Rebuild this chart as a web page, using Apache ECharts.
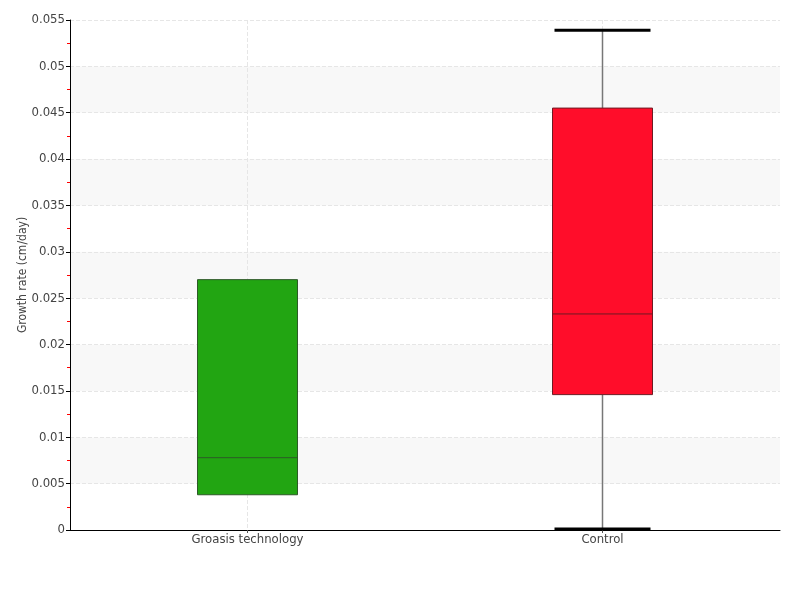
<!DOCTYPE html>
<html>
<head>
<meta charset="utf-8">
<script src="https://cdn.jsdelivr.net/npm/echarts@6/dist/echarts.min.js"></script>
<style>
  html, body { margin: 0; padding: 0; background: #fff; }
  #main { width: 800px; height: 600px; }
</style>
</head>
<body>
<div id="main"></div>
<script>
// 数据
var categories = ['Groasis technology', 'Control'];
var lowValues = [0.0038, 0.0001];
var q1Values = [0.0038, 0.0146];
var medianValues = [0.0078, 0.0233];
var q3Values = [0.027, 0.0455];
var highValues = [0.027, 0.0539];
var boxColors = ['#22a512', '#ff0d2a'];
var boxBorders = ['#2d5a27', '#6e1a22'];

var font = '"Liberation Sans Narrow", "DejaVu Sans Condensed", sans-serif';

var seriesData = categories.map(function (c, i) {
  return [i, lowValues[i], q1Values[i], medianValues[i], q3Values[i], highValues[i]];
});

var chart = echarts.init(document.getElementById('main'));

chart.setOption({
  animation: false,
  grid: { left: 70, right: 20, top: 20, bottom: 70 },
  xAxis: {
    type: 'category',
    data: categories,
    boundaryGap: true,
    axisLine: { lineStyle: { color: '#000', width: 1 } },
    axisTick: { show: true, alignWithLabel: true, length: 3, lineStyle: { color: '#555' } },
    axisLabel: { color: '#444', fontSize: 13, fontFamily: font, margin: 3 },
    splitLine: { show: true, alignWithLabel: true, lineStyle: { color: '#e6e6e6', type: 'dashed' } }
  },
  yAxis: {
    type: 'value',
    min: 0,
    max: 0.055,
    interval: 0.005,
    name: 'Growth rate (cm/day)',
    nameLocation: 'middle',
    nameGap: 41,
    nameMoveOverlap: false,
    nameTextStyle: { color: '#444', fontSize: 12, fontFamily: font },
    axisLine: { show: true, lineStyle: { color: '#000', width: 1 } },
    axisTick: { show: true, length: 4, lineStyle: { color: '#000' } },
    minorTick: { show: true, splitNumber: 2, length: 3, lineStyle: { color: '#ff0000' } },
    axisLabel: { color: '#444', fontSize: 13, fontFamily: font, margin: 5 },
    splitLine: { show: true, lineStyle: { color: '#e6e6e6', type: 'dashed' } },
    splitArea: { show: true, areaStyle: { color: ['#ffffff', '#f8f8f8'] } }
  },
  series: [{
    type: 'custom',
    data: seriesData,
    encode: { x: 0, y: [1, 2, 3, 4, 5] },
    renderItem: function (params, api) {
      var idx = api.value(0);
      var low = api.coord([idx, api.value(1)]);
      var q1 = api.coord([idx, api.value(2)]);
      var med = api.coord([idx, api.value(3)]);
      var q3 = api.coord([idx, api.value(4)]);
      var high = api.coord([idx, api.value(5)]);
      var cx = low[0];
      var halfBox = 50;
      var halfCap = 48;
      var children = [];
      if (api.value(5) > api.value(4)) {
        children.push({ type: 'line', shape: { x1: cx, y1: high[1], x2: cx, y2: q3[1] },
          style: { stroke: '#777', lineWidth: 1.5 } });
        children.push({ type: 'line', shape: { x1: cx - halfCap, y1: high[1], x2: cx + halfCap, y2: high[1] },
          style: { stroke: '#000', lineWidth: 3 } });
      }
      if (api.value(1) < api.value(2)) {
        children.push({ type: 'line', shape: { x1: cx, y1: q1[1], x2: cx, y2: low[1] },
          style: { stroke: '#777', lineWidth: 1.5 } });
        children.push({ type: 'line', shape: { x1: cx - halfCap, y1: low[1], x2: cx + halfCap, y2: low[1] },
          style: { stroke: '#000', lineWidth: 3 } });
      }
      children.push({ type: 'rect',
        shape: { x: cx - halfBox, y: q3[1], width: halfBox * 2, height: q1[1] - q3[1] },
        style: { fill: boxColors[idx], stroke: boxBorders[idx], lineWidth: 1 } });
      children.push({ type: 'line', shape: { x1: cx - halfBox, y1: med[1], x2: cx + halfBox, y2: med[1] },
        style: { stroke: boxBorders[idx], lineWidth: 1 } });
      return { type: 'group', children: children };
    }
  }]
});
</script>
</body>
</html>
